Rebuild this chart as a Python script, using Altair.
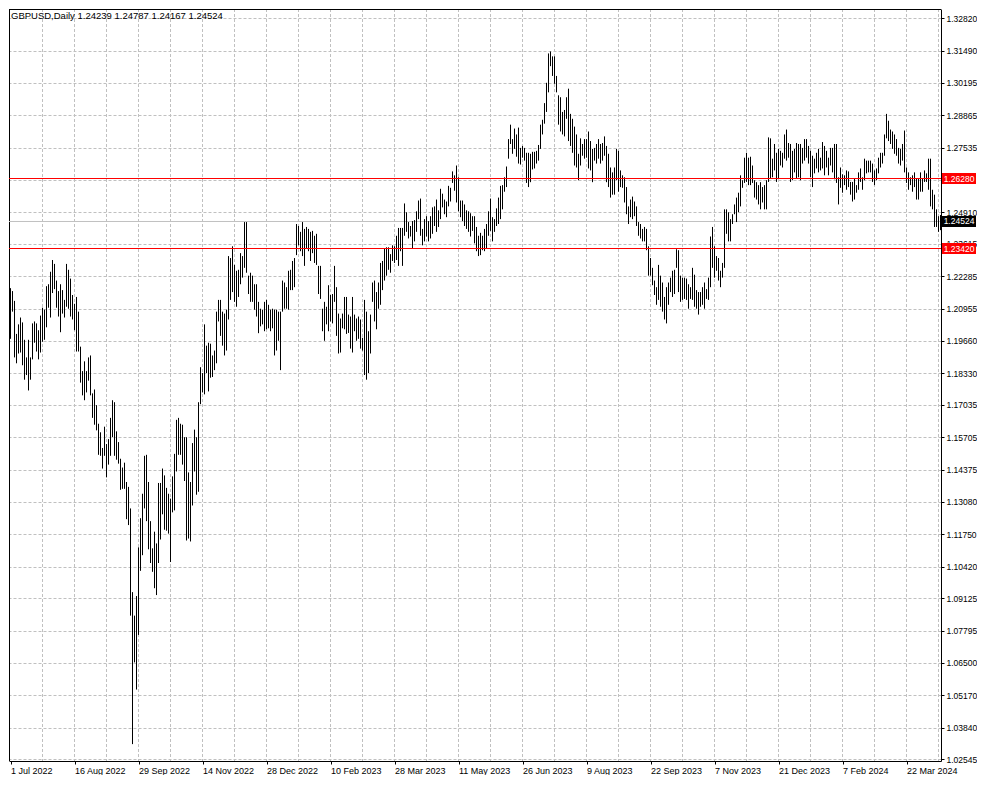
import altair as alt
import pandas as pd

# Daily GBPUSD bars (1 Jul 2022 .. 16 Apr 2024), prices in 1/10000 (pips)
HIGH_PIPS = [
    12180, 12168, 12128, 11993, 12032, 12060, 12040, 11969, 11897, 11969,
    11897, 12036, 12044, 12036, 12008, 12068, 12100, 12092, 12188, 12196,
    12247, 12295, 12279, 12211, 12168, 12196, 12172, 12132, 12279, 12255,
    12219, 12152, 12116, 12144, 12084, 11941, 11841, 11881, 11841, 11897,
    11905, 11750, 11766, 11702, 11626, 11591, 11527, 11614, 11543, 11563,
    11650, 11722, 11714, 11595, 11551, 11483, 11447, 11467, 11388, 11368,
    11280, 10938, 10842, 10922, 11121, 11240, 11340, 11495, 11499, 11388,
    11228, 11117, 11185, 11137, 11384, 11384, 11443, 11415, 11364, 11340,
    11320, 11411, 11503, 11642, 11650, 11626, 11622, 11571, 11571, 11427,
    11388, 11547, 11602, 11571, 11714, 11857, 11833, 12032, 11945, 11957,
    11953, 11905, 11925, 12084, 12132, 12132, 12084, 12076, 12092, 12311,
    12303, 12351, 12275, 12251, 12255, 12323, 12311, 12450, 12450, 12231,
    12243, 12231, 12196, 12196, 12124, 12096, 12092, 12124, 12132, 12112,
    12092, 12096, 12092, 12092, 12084, 12084, 12211, 12203, 12184, 12251,
    12255, 12291, 12303, 12442, 12434, 12410, 12450, 12422, 12430, 12422,
    12410, 12414, 12394, 12402, 12271, 12271, 12096, 12124, 12104, 12192,
    12152, 12156, 12271, 12184, 12076, 12056, 12076, 12144, 12144, 12072,
    12064, 12144, 12072, 12056, 12064, 12052, 11977, 12132, 12084, 12004,
    12072, 12203, 12211, 12164, 12203, 12283, 12291, 12343, 12347, 12347,
    12319, 12355, 12351, 12394, 12426, 12426, 12426, 12526, 12490, 12450,
    12434, 12454, 12458, 12494, 12538, 12546, 12422, 12462, 12474, 12454,
    12474, 12510, 12514, 12542, 12498, 12586, 12566, 12542, 12534, 12598,
    12590, 12657, 12641, 12681, 12633, 12538, 12538, 12522, 12498, 12494,
    12486, 12474, 12474, 12430, 12394, 12406, 12394, 12422, 12442, 12494,
    12546, 12470, 12462, 12506, 12550, 12598, 12601, 12633, 12677, 12789,
    12848, 12789, 12832, 12808, 12836, 12753, 12761, 12753, 12733, 12733,
    12729, 12737, 12737, 12741, 12765, 12848, 12868, 12936, 13019, 13139,
    13147, 13127, 13127, 13047, 12968, 12960, 12900, 12908, 12960, 12995,
    12892, 12872, 12840, 12808, 12729, 12792, 12769, 12789, 12789, 12820,
    12781, 12749, 12753, 12769, 12789, 12769, 12773, 12800, 12761, 12729,
    12673, 12653, 12673, 12749, 12741, 12661, 12641, 12633, 12593, 12514,
    12542, 12554, 12534, 12514, 12450, 12442, 12422, 12430, 12422, 12351,
    12303, 12263, 12211, 12184, 12275, 12231, 12203, 12144, 12184, 12203,
    12223, 12251, 12255, 12339, 12335, 12231, 12223, 12223, 12219, 12196,
    12184, 12263, 12235, 12172, 12164, 12164, 12184, 12203, 12176, 12223,
    12391, 12430, 12351, 12311, 12303, 12251, 12283, 12502, 12502, 12490,
    12462, 12482, 12522, 12550, 12570, 12641, 12621, 12713, 12733, 12713,
    12717, 12681, 12621, 12613, 12601, 12613, 12593, 12601, 12621, 12796,
    12792, 12709, 12769, 12733, 12749, 12741, 12733, 12808, 12828, 12773,
    12769, 12741, 12749, 12773, 12769, 12769, 12753, 12789, 12789, 12761,
    12741, 12721, 12709, 12733, 12749, 12713, 12777, 12761, 12741, 12713,
    12753, 12753, 12769, 12769, 12633, 12673, 12645, 12641, 12661, 12657,
    12614, 12614, 12629, 12601, 12653, 12669, 12633, 12709, 12701, 12701,
    12701, 12689, 12661, 12669, 12713, 12733, 12733, 12808, 12892, 12864,
    12828, 12820, 12808, 12789, 12753, 12749, 12769, 12824, 12673, 12653,
    12633, 12641, 12653, 12629, 12629, 12653, 12629, 12661, 12649, 12709,
    12709, 12582, 12562, 12502, 12474, 12479,
]
LOW_PIPS = [
    11973, 12084, 11897, 11873, 11913, 11917, 11865, 11806, 11825, 11762,
    11806, 11889, 11957, 11921, 11889, 11917, 11961, 11969, 12020, 12100,
    12060, 12160, 12176, 12100, 12064, 12000, 12076, 12060, 12104, 12096,
    12064, 12052, 12008, 11921, 11921, 11794, 11742, 11722, 11754, 11802,
    11742, 11650, 11622, 11599, 11499, 11495, 11443, 11495, 11407, 11459,
    11495, 11571, 11495, 11479, 11463, 11356, 11360, 11360, 11236, 11212,
    10842, 10317, 10651, 10540, 10763, 11025, 11089, 11280, 11228, 11113,
    11057, 11021, 10954, 10926, 11057, 11153, 11256, 11193, 11189, 11177,
    11061, 11264, 11272, 11431, 11499, 11499, 11459, 11392, 11149, 11157,
    11145, 11292, 11431, 11336, 11348, 11706, 11754, 11746, 11833, 11758,
    11814, 11817, 11845, 11873, 12044, 11985, 11945, 11905, 11925, 12052,
    12132, 12164, 12124, 12104, 12144, 12196, 12223, 12263, 12243, 12156,
    12124, 12124, 12092, 12064, 11996, 12024, 12032, 12004, 12012, 12016,
    12004, 12016, 11905, 11925, 11965, 11845, 12084, 12096, 12096, 12092,
    12172, 12172, 12184, 12315, 12355, 12331, 12311, 12271, 12343, 12331,
    12291, 12323, 12283, 12275, 12156, 12136, 12004, 11965, 12032, 12004,
    12044, 12036, 12124, 11985, 11913, 11917, 12016, 12012, 11993, 11997,
    11933, 11917, 12004, 11965, 11973, 11933, 11925, 11825, 11806, 11833,
    11913, 12124, 12044, 12012, 12096, 12112, 12172, 12211, 12231, 12255,
    12243, 12291, 12283, 12295, 12271, 12331, 12271, 12394, 12410, 12383,
    12391, 12343, 12371, 12410, 12462, 12394, 12355, 12371, 12391, 12371,
    12383, 12402, 12434, 12410, 12430, 12462, 12510, 12482, 12470, 12514,
    12534, 12610, 12578, 12530, 12494, 12470, 12454, 12434, 12422, 12410,
    12391, 12414, 12363, 12331, 12311, 12315, 12335, 12331, 12343, 12394,
    12414, 12371, 12410, 12434, 12442, 12462, 12502, 12574, 12593, 12709,
    12769, 12729, 12749, 12717, 12689, 12685, 12713, 12701, 12610, 12593,
    12613, 12665, 12669, 12689, 12701, 12749, 12808, 12852, 12900, 12980,
    13087, 13047, 13015, 12980, 12848, 12820, 12808, 12800, 12872, 12781,
    12761, 12733, 12681, 12673, 12621, 12681, 12721, 12709, 12713, 12669,
    12661, 12613, 12701, 12689, 12709, 12689, 12701, 12721, 12613, 12593,
    12550, 12562, 12562, 12621, 12574, 12593, 12590, 12530, 12482, 12442,
    12470, 12462, 12474, 12434, 12394, 12383, 12371, 12371, 12335, 12231,
    12231, 12192, 12152, 12112, 12132, 12104, 12084, 12052, 12036, 12112,
    12164, 12144, 12156, 12263, 12164, 12124, 12132, 12136, 12132, 12096,
    12136, 12132, 12104, 12096, 12072, 12104, 12112, 12096, 12136, 12132,
    12184, 12263, 12223, 12251, 12211, 12184, 12223, 12263, 12402, 12371,
    12371, 12442, 12482, 12450, 12490, 12514, 12590, 12610, 12614, 12601,
    12601, 12610, 12550, 12542, 12522, 12502, 12530, 12502, 12502, 12614,
    12629, 12633, 12661, 12614, 12629, 12681, 12673, 12709, 12701, 12713,
    12614, 12621, 12653, 12629, 12633, 12621, 12689, 12701, 12713, 12689,
    12633, 12593, 12649, 12669, 12653, 12661, 12669, 12641, 12673, 12641,
    12681, 12653, 12625, 12610, 12522, 12590, 12570, 12601, 12582, 12593,
    12562, 12534, 12542, 12570, 12582, 12614, 12582, 12621, 12649, 12653,
    12653, 12614, 12601, 12621, 12649, 12673, 12689, 12721, 12792, 12781,
    12769, 12749, 12729, 12721, 12689, 12681, 12701, 12653, 12610, 12582,
    12601, 12574, 12593, 12542, 12542, 12574, 12574, 12614, 12614, 12582,
    12514, 12502, 12430, 12430, 12410, 12417,
]

DATE_LABELS = [
    "1 Jul 2022", "16 Aug 2022", "29 Sep 2022", "14 Nov 2022", "28 Dec 2022",
    "10 Feb 2023", "28 Mar 2023", "11 May 2023", "26 Jun 2023", "9 Aug 2023",
    "22 Sep 2023", "7 Nov 2023", "21 Dec 2023", "7 Feb 2024", "22 Mar 2024",
]
LABEL_STEP = 32   # bars between date labels
GRID_STEP = 16    # bars between vertical grid lines

PRICE_TICKS = [
    1.32820, 1.31490, 1.30195, 1.28865, 1.27535, 1.26220, 1.24910, 1.23615,
    1.22285, 1.20955, 1.19660, 1.18330, 1.17035, 1.15705, 1.14375, 1.13080,
    1.11750, 1.10420, 1.09125, 1.07795, 1.06500, 1.05170, 1.03840, 1.02545,
]
HIDDEN_TICK = 1.26220   # grid line whose label sits under the red level box
LEVELS = [1.26280, 1.23420]
LAST_PRICE = 1.24524
TITLE = "GBPUSD,Daily  1.24239 1.24787 1.24167 1.24524"

n = min(len(HIGH_PIPS), len(LOW_PIPS))
bars = pd.DataFrame({
    "idx": list(range(n)),
    "high": [v / 10000 for v in HIGH_PIPS[:n]],
    "low": [v / 10000 for v in LOW_PIPS[:n]],
})
grid_df = pd.DataFrame({"idx": list(range(GRID_STEP, n, GRID_STEP))})
lvl_df = pd.DataFrame({"price": LEVELS, "label": [f"{p:.5f}" for p in LEVELS]})
cur_df = pd.DataFrame({"price": [LAST_PRICE], "label": [f"{LAST_PRICE:.5f}"]})
title_df = pd.DataFrame({"t": [TITLE]})

W, H = 932, 752
FONT = "Liberation Sans"
FS = 8.5
BOX_X = W + 18
BOX_W = 34

xscale = alt.Scale(domain=[-0.75, n - 0.75], nice=False, zero=False)
yscale = alt.Scale(domain=[1.024805, 1.332055], nice=False, zero=False)

label_expr = "[" + ",".join(f"'{s}'" for s in DATE_LABELS) + f"][round(datum.value / {LABEL_STEP})]"
y_label_expr = f"abs(datum.value - {HIDDEN_TICK}) < 0.00001 ? '' : format(datum.value, '.5f')"

x_axis = alt.Axis(
    values=[i * LABEL_STEP for i in range(len(DATE_LABELS))],
    labelExpr=label_expr, title=None, grid=False, orient="bottom",
    labelAlign="left", labelBaseline="top", labelPadding=2, tickSize=3,
    tickColor="black", domainColor="black", labelColor="black",
    labelFont=FONT, labelFontSize=9, labelOverlap=False, labelFlush=False, zindex=0,
)
y_axis = alt.Axis(
    values=PRICE_TICKS, labelExpr=y_label_expr, orient="right", title=None,
    grid=True, gridColor="#c0c0c0", gridDash=[3, 2], gridWidth=1,
    tickSize=3, tickColor="black", domainColor="black", labelColor="black",
    labelFont=FONT, labelFontSize=FS, labelPadding=2, labelOverlap=False,
    labelFlush=False, labelBaseline="middle", zindex=0,
)


def X(field):
    return alt.X(field, scale=xscale, axis=x_axis)


def Y(field):
    return alt.Y(field, scale=yscale, axis=y_axis)


vgrid = alt.Chart(grid_df).mark_rule(color="#c0c0c0", strokeDash=[3, 2], strokeWidth=1).encode(
    x=X("idx:Q")
)
left_border = alt.Chart(title_df).mark_rule(color="black", strokeWidth=1).encode(x=alt.value(0.5))
top_border = alt.Chart(title_df).mark_rule(color="black", strokeWidth=1).encode(y=alt.value(0.5))
cur_line = alt.Chart(cur_df).mark_rule(color="#c0c0c0", strokeWidth=1).encode(y=Y("price:Q"))
bar_layer = alt.Chart(bars).mark_rule(color="black", strokeWidth=1).encode(
    x=X("idx:Q"), y=Y("low:Q"), y2="high:Q"
)
lvl_lines = alt.Chart(lvl_df).mark_rule(color="#ff0000", strokeWidth=1).encode(y=Y("price:Q"))
lvl_boxes = alt.Chart(lvl_df).mark_tick(
    orient="horizontal", size=BOX_W, thickness=11, color="#ff0000", opacity=1, filled=True
).encode(x=alt.value(BOX_X), y=Y("price:Q"))
lvl_text = alt.Chart(lvl_df).mark_text(
    color="white", font=FONT, fontSize=FS, align="center", baseline="middle"
).encode(x=alt.value(BOX_X), y=Y("price:Q"), text="label:N")
cur_box = alt.Chart(cur_df).mark_tick(
    orient="horizontal", size=BOX_W, thickness=11, color="black", opacity=1, filled=True
).encode(x=alt.value(BOX_X), y=Y("price:Q"))
cur_text = alt.Chart(cur_df).mark_text(
    color="white", font=FONT, fontSize=FS, align="center", baseline="middle"
).encode(x=alt.value(BOX_X), y=Y("price:Q"), text="label:N")
title_text = alt.Chart(title_df).mark_text(
    color="black", font=FONT, fontSize=9.5, align="left", baseline="middle"
).encode(x=alt.value(2), y=alt.value(7), text="t:N")

chart = (
    alt.layer(vgrid, left_border, top_border, cur_line, bar_layer, lvl_lines,
              lvl_boxes, lvl_text, cur_box, cur_text, title_text)
    .properties(width=W, height=H, padding=0, background="white")
    .configure_view(strokeWidth=0)
)

chart.save("out.html", embed_options={"renderer": "svg", "actions": False})
